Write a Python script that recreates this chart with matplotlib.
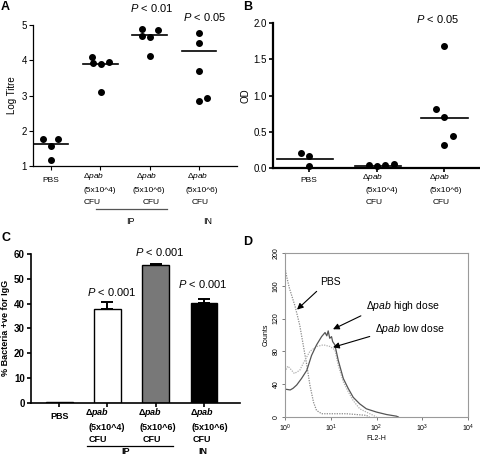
import numpy as np
import matplotlib
matplotlib.use('Agg')
import matplotlib.pyplot as plt
import matplotlib.transforms as mtransforms

plt.rcParams['font.family'] = ['Liberation Sans', 'DejaVu Sans']
plt.rcParams['mathtext.fontset'] = 'custom'
plt.rcParams['mathtext.rm'] = 'Liberation Sans'
plt.rcParams['mathtext.it'] = 'Liberation Sans:italic'
plt.rcParams['mathtext.bf'] = 'Liberation Sans:bold'
plt.rcParams['mathtext.bfit'] = 'Liberation Sans:italic:bold'

W, H = 480, 457

# ---- panel A: log titre ----
a_labels = [['PBS'],
            ['Δ$\\it{pab}$', '(5x10^4)', 'CFU'],
            ['Δ$\\it{pab}$', '(5x10^6)', 'CFU'],
            ['Δ$\\it{pab}$', '(5x10^6)', 'CFU']]
a_pbs = [1.76, 1.76, 1.57, 1.18]
a_low_ip = [4.10, 3.91, 3.88, 3.95, 3.09]
a_high_ip = [4.89, 4.86, 4.69, 4.67, 4.13]
a_high_in = [4.78, 4.49, 3.69, 2.84, 2.92]
a_medians = [1.62, 3.88, 4.71, 4.27]

# ---- panel B: OD ----
b_labels = [['PBS'],
            ['Δ$\\it{pab}$', '(5x10^4)', 'CFU'],
            ['Δ$\\it{pab}$', '(5x10^6)', 'CFU']]
b_pbs = [0.21, 0.16, 0.03]
b_low = [0.04, 0.03, 0.04, 0.05]
b_high = [1.68, 0.81, 0.70, 0.44, 0.32]
b_medians = [0.13, 0.03, 0.69]

# ---- panel C: % bacteria IgG ----
c_labels = [['PBS'],
            ['Δ$\\boldsymbol{pab}$', '(5x10^4)', 'CFU'],
            ['Δ$\\boldsymbol{pab}$', '(5x10^6)', 'CFU'],
            ['Δ$\\boldsymbol{pab}$', '(5x10^6)', 'CFU']]
c_values = [0.3, 37.9, 55.5, 40.4]
c_errors = [0.0, 2.9, 0.3, 1.5]
c_colors = ['white', 'white', '#787878', 'black']

# ---- panel D: flow histogram ----
d_pbs_x = [1.0, 1.1, 1.25, 1.66, 2.1, 2.5, 3.0, 3.5, 4.2, 4.9, 6.3, 22, 60, 70]
d_pbs_y = [182, 170, 157, 135, 112, 88, 63, 39, 18, 8, 4, 4, 2, 0]
d_high_x = [1.0, 1.3, 1.5, 1.8, 2.3, 3.0, 3.8, 4.9, 6.3, 7.5, 8.2, 8.8, 9.5, 10.4, 11.0, 12.3, 14.6, 18.8, 24, 31, 43, 60, 100, 166, 273, 300]
d_high_y = [34, 33, 35, 39, 47, 57, 75, 88, 98, 103, 99, 105, 96, 98, 92, 88, 69, 47, 35, 24, 16, 10, 6, 3, 1, 0]
d_low_x = [1.0, 1.15, 1.3, 1.6, 2.1, 2.7, 3.5, 4.9, 6.9, 9.6, 12.3, 14.6, 18.8, 24, 31, 43, 60, 85, 100]
d_low_y = [55, 62, 59, 53, 57, 69, 80, 86, 88, 86, 82, 63, 43, 31, 20, 10, 6, 2, 0]


def rect(l, t, r, b):
    return [l / W, 1 - b / H, (r - l) / W, (b - t) / H]


def ftext(x, y, s, **kw):
    fig.text(x / W, 1 - y / H, s, **kw)


def xlabels(ax, labels, axis_py, pbs_dy, line_dy, dxs, **kw):
    # draw the multi-line category labels under an axis; dxs are px shifts of each line's left edge
    base = mtransforms.blended_transform_factory(ax.transData, fig.transFigure)
    for i, lines in enumerate(labels):
        if len(lines) == 1:
            ax.text(i, 1 - (axis_py + pbs_dy) / H, lines[0], transform=base,
                    ha='center', va='center', **kw)
            continue
        for j, s in enumerate(lines):
            tr = base + mtransforms.ScaledTranslation(dxs[i][j] / 100, 0, fig.dpi_scale_trans)
            ax.text(i, 1 - (axis_py + line_dy[j]) / H, s, transform=tr,
                    ha='left', va='center', **kw)


fig = plt.figure(figsize=(W / 100, H / 100), dpi=100)

# ================= A =================
axA = fig.add_axes(rect(33, 25, 237, 166))
a_groups = [a_pbs, a_low_ip, a_high_ip, a_high_in]
a_jit = [[-0.16, 0.15, 0.0, 0.0],
         [-0.16, -0.14, 0.02, 0.17, 0.02],
         [-0.15, 0.17, -0.15, 0.0, 0.0],
         [0.0, 0.0, 0.0, 0.0, 0.16]]
for i, g in enumerate(a_groups):
    axA.scatter(np.array(a_jit[i]) + i, g, s=16, color='black', zorder=3)
    axA.plot([i - 0.35, i + 0.35], [a_medians[i]] * 2, color='black', lw=1.2)
axA.set_xlim(-0.365, 3.77)
axA.set_ylim(1, 5)
axA.set_yticks([1, 2, 3, 4, 5])
axA.set_xticks(range(4))
axA.set_xticklabels([])
xlabels(axA, a_labels, 166, 15, [10, 24.5, 36],
        [None, [-17, -17, -17], [-14, -17, -7], [-12, -14, -7]], fontsize=6)
axA.tick_params(axis='y', labelsize=7, length=3, width=0.8, pad=1.5)
axA.tick_params(axis='x', length=3, width=0.8)
axA.set_ylabel('Log Titre', fontsize=7, labelpad=3)
for sp in ['top', 'right']:
    axA.spines[sp].set_visible(False)
for sp in ['left', 'bottom']:
    axA.spines[sp].set_linewidth(0.9)
ftext(152, 8, '$\\it{P}$ < 0.01', fontsize=8, ha='center', va='center')
ftext(205, 17, '$\\it{P}$ < 0.05', fontsize=8, ha='center', va='center')
fig.add_artist(plt.Line2D([96 / W, 167 / W], [1 - 209 / H] * 2, color='#555555', lw=0.9))
ftext(130, 222, 'IP', fontsize=6.5, ha='center', va='center')
ftext(208, 222, 'IN', fontsize=6.5, ha='center', va='center')
ftext(1, 7, 'A', fontsize=9, fontweight='bold', ha='left', va='center')

# ================= B =================
axB = fig.add_axes(rect(273, 23, 479, 168))
b_groups = [b_pbs, b_low, b_high]
b_jit = [[-0.11, 0.0, 0.0],
         [-0.11, 0.01, 0.13, 0.25],
         [0.0, -0.12, 0.0, 0.12, 0.0]]
b_span = [(-0.47, 0.36), (-0.32, 0.36), (-0.34, 0.35)]
for i, g in enumerate(b_groups):
    axB.scatter(np.array(b_jit[i]) + i, g, s=16, color='black', zorder=3, clip_on=False)
    axB.plot([i + b_span[i][0], i + b_span[i][1]], [b_medians[i]] * 2, color='black', lw=1.2)
axB.set_xlim(-0.53, 2.51)
axB.set_ylim(0, 2.0)
axB.set_yticks([0, 0.5, 1.0, 1.5, 2.0])
axB.set_yticklabels(['0.0', '0.5', '1.0', '1.5', '2.0'])
axB.set_xticks(range(3))
axB.set_xticklabels([])
xlabels(axB, b_labels, 168, 12.7, [9.3, 22.8, 34.5],
        [None, [-15, -11, -11], [-15, -15, -12]], fontsize=6)
axB.tick_params(axis='y', labelsize=7, length=3, width=1.2, pad=1.5)
axB.tick_params(axis='x', length=3, width=1.2)
axB.set_ylabel('OD', fontsize=7, labelpad=2)
for sp in ['top', 'right']:
    axB.spines[sp].set_visible(False)
for sp in ['left', 'bottom']:
    axB.spines[sp].set_linewidth(1.6)
ftext(438, 19, '$\\it{P}$ < 0.05', fontsize=8, ha='center', va='center')
ftext(243, 7, 'B', fontsize=9, fontweight='bold', ha='left', va='center')

# ================= C =================
axC = fig.add_axes(rect(31, 254, 240, 402.7))
xc = np.arange(4)
axC.bar(xc, c_values, width=0.55, color=c_colors, edgecolor='black', linewidth=1.0, zorder=2)
axC.errorbar(xc[1:], c_values[1:], yerr=[[0] * 3, c_errors[1:]], fmt='none',
             ecolor='black', elinewidth=1.4, capsize=4.5, capthick=1.4, zorder=1)
axC.set_xlim(-0.587, 3.75)
axC.set_ylim(0, 60)
axC.set_yticks(range(0, 61, 10))
axC.set_xticks(xc)
axC.set_xticklabels([])
xlabels(axC, c_labels, 402.7, 13.4, [9.4, 24.5, 36.5],
        [None, [-22, -19, -19], [-18, -16, -13], [-14, -12, -11]], fontsize=6.5, fontweight='bold')
axC.tick_params(axis='y', labelsize=7, length=3, width=1.2, pad=1.5)
axC.tick_params(axis='x', length=3, width=1.2)
for lab in axC.get_yticklabels():
    lab.set_fontweight('bold')
axC.set_ylabel('% Bacteria +ve for IgG', fontsize=6.5, fontweight='bold', labelpad=3)
for sp in ['top', 'right']:
    axC.spines[sp].set_visible(False)
for sp in ['left', 'bottom']:
    axC.spines[sp].set_linewidth(1.2)
ftext(112, 292, '$\\it{P}$ < 0.001', fontsize=8, ha='center', va='center')
ftext(160, 252, '$\\it{P}$ < 0.001', fontsize=8, ha='center', va='center')
ftext(203, 284, '$\\it{P}$ < 0.001', fontsize=8, ha='center', va='center')
fig.add_artist(plt.Line2D([87 / W, 173 / W], [1 - 445.7 / H] * 2, color='black', lw=0.9))
ftext(126, 452, 'IP', fontsize=6.5, fontweight='bold', ha='center', va='center')
ftext(203, 452, 'IN', fontsize=6.5, fontweight='bold', ha='center', va='center')
ftext(1, 238, 'C', fontsize=9, fontweight='bold', ha='left', va='center')

# ================= D =================
axD = fig.add_axes(rect(285, 253, 468, 417))
axD.plot(d_pbs_x, d_pbs_y, color='#8a8a8a', lw=0.9, ls=(0, (1, 1)))
axD.plot(d_low_x, d_low_y, color='#b0b0b0', lw=0.9, ls=(0, (1, 1)))
axD.plot(d_high_x, d_high_y, color='#555555', lw=0.9)
axD.set_xscale('log')
axD.set_xlim(1, 1e4)
axD.set_ylim(0, 200)
axD.set_yticks([0, 40, 80, 120, 160, 200])
axD.set_xticks([1, 10, 100, 1000, 10000])
axD.set_xticklabels(['$10^0$', '$10^1$', '$10^2$', '$10^3$', '$10^4$'])
axD.minorticks_off()
axD.tick_params(axis='both', labelsize=5, length=2.5, width=0.6, pad=1.5, color='#666666')
for lab in axD.get_yticklabels():
    lab.set_rotation(90)
    lab.set_va('center')
for sp in axD.spines.values():
    sp.set_color('#9a9a9a')
    sp.set_linewidth(0.8)
axD.set_xlabel('FL2-H', fontsize=5, labelpad=1)
axD.set_ylabel('Counts', fontsize=5, labelpad=2)

arrow = dict(arrowstyle='-|>', color='black', lw=0.8, mutation_scale=9, shrinkA=2, shrinkB=0)
axD.annotate('PBS', xy=(1.83, 131), xytext=(9.6, 165), fontsize=7.5, ha='center', va='center',
             arrowprops=dict(arrow, relpos=(0.1, 0.0)))
axD.annotate('Δ$\\it{pab}$ high dose', xy=(11.2, 107), xytext=(380, 135), fontsize=7.5, ha='center', va='center',
             arrowprops=dict(arrow, relpos=(0.0, 0.0)))
axD.annotate('Δ$\\it{pab}$ low dose', xy=(11.2, 85), xytext=(540, 107), fontsize=7.5, ha='center', va='center',
             arrowprops=dict(arrow, relpos=(0.0, 0.1)))
ftext(243, 242, 'D', fontsize=9, fontweight='bold', ha='left', va='center')

fig.savefig('out.png', dpi=100)
